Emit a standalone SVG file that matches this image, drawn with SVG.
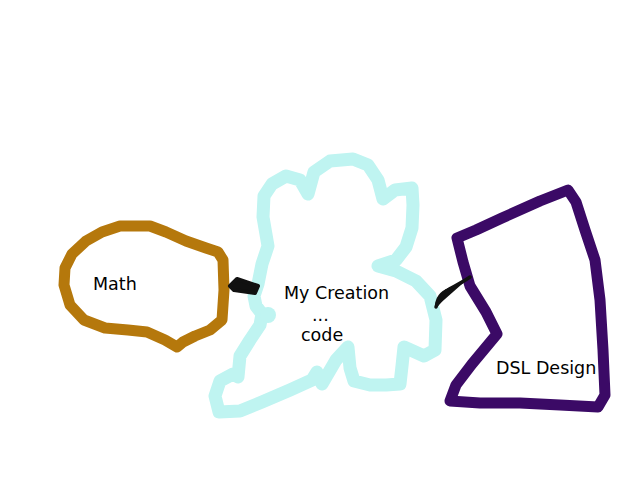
<svg xmlns="http://www.w3.org/2000/svg" width="640" height="480" viewBox="0 0 640 480">
<style>
.blob{fill:none;stroke-linejoin:round;stroke-linecap:round}
.lbl{font-family:"DejaVu Sans",sans-serif;font-size:17.5px;fill:#000}
.conn{fill:#111;stroke:#111;stroke-linejoin:round;stroke-linecap:round}
</style>
<rect width="640" height="480" fill="#fff"/>
<g id="math">
<polygon class="blob" stroke="#b5780c" stroke-width="11" points="64,285 65,268 72,254 86,241 102,232 120,226 150,226 166,232 186,241 206,248 218,252 223,260 224,290 222,320 210,330 195,336 183,342 177,347 165,340 147,332 128,330 105,328 84,320 70,305"/>
<text class="lbl" x="93" y="290">Math</text>
</g>
<g id="creation">
<polygon class="blob" stroke="#bff4f1" stroke-width="13" points="263,217 264,196 272,184 286,176 300,180 308,194 314,172 330,161 353,159 368,165 378,180 383,199 395,190 412,188 413,205 412,228 406,247 396,260 378,266 396,271 416,281 430,296 436,320 435,350 424,356 404,347 402,366 400,384 386,385 370,385 354,381 350,368 348,347 336,360 322,384 317,372 312,380 290,390 262,402 240,411 219,412 215,396 220,381 233,374 238,377 240,356 250,340 260,325 262,314 256,306 254,296 258,284 262,264 268,246 263,217"/>
<circle cx="268" cy="315" r="8" fill="#bff4f1"/>
<text class="lbl" x="284" y="299">My Creation</text>
<text class="lbl" x="312" y="321">...</text>
<text class="lbl" x="301" y="341">code</text>
</g>
<g id="dsl">
<polygon class="blob" stroke="#3b0a66" stroke-width="11" points="457,238 476,230 502,218 540,201 568,190 576,202 585,230 595,260 600,300 603,350 605,395 598,407 560,405 520,403 480,403 450,401 456,385 472,364 497,334 486,312 470,286 463,262"/>
<text class="lbl" x="496" y="374">DSL Design</text>
</g>
<g id="connectors">
<path class="conn" stroke-width="4" d="M230,286 L237,279 L258,286 L255,293 L234,290 Z"/>
<path class="conn" fill="none" stroke-width="3.5" d="M470,277 C460,284 452,287 446,291 C440,296 437,302 436,307"/>
<path class="conn" stroke-width="2" d="M436,307 C436,298 441,292 449,289 L446,295 Z"/>
</g>
</svg>
